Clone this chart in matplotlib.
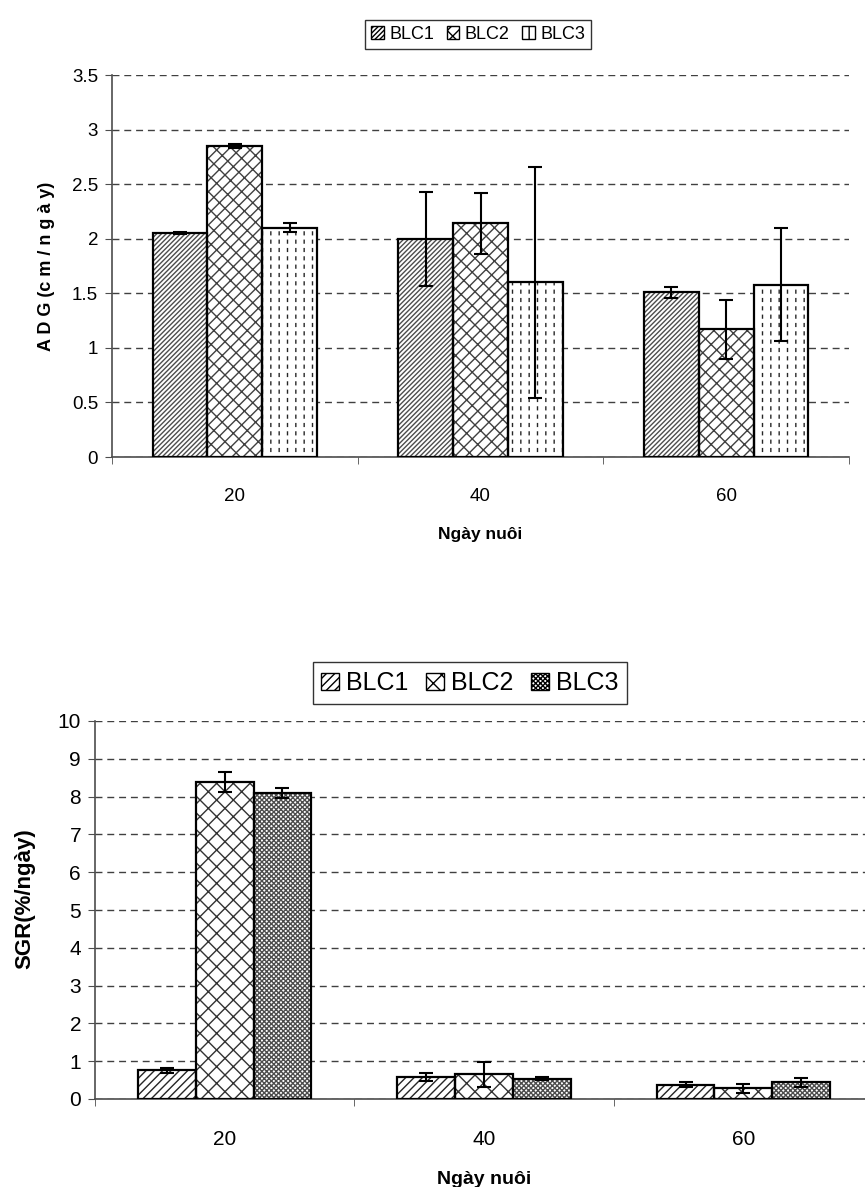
# two grouped bar charts: ADG and SGR by feeding day
import numpy as np
import matplotlib.pyplot as plt
from matplotlib.patches import Patch

plt.rcParams['font.family'] = ['Liberation Sans', 'DejaVu Sans']
plt.rcParams['hatch.linewidth'] = 1.0

# data
days = ['20', '40', '60']
series = ['BLC1', 'BLC2', 'BLC3']

adg_blc1 = [2.05, 2.00, 1.51]
adg_blc2 = [2.85, 2.14, 1.17]
adg_blc3 = [2.10, 1.60, 1.58]
adg_err1 = [0.01, 0.43, 0.05]
adg_err2 = [0.015, 0.28, 0.27]
adg_err3 = [0.04, 1.06, 0.52]

sgr_blc1 = [0.76, 0.59, 0.38]
sgr_blc2 = [8.38, 0.65, 0.28]
sgr_blc3 = [8.10, 0.54, 0.44]
sgr_err1 = [0.07, 0.11, 0.07]
sgr_err2 = [0.27, 0.33, 0.13]
sgr_err3 = [0.14, 0.03, 0.11]

adg_ticks = [0, 0.5, 1, 1.5, 2, 2.5, 3, 3.5]
sgr_ticks = list(range(0, 11))

fig = plt.figure(figsize=(8.65, 11.87), dpi=100)


def draw(ax, vals, errs, hatches, hcolors, ticks, ylabel, fs_tick, fs_lab, fs_x,
         dashed=None, label_y=0.5):
    x = np.arange(len(days))
    w = 0.223
    for i in range(3):
        pos = x + (i - 1) * w
        # hatch layer, then black outline on top
        ax.bar(pos, vals[i], w, color='white', hatch=hatches[i],
               edgecolor=hcolors[i], linewidth=0, zorder=2)
        if dashed is not None and dashed == i:
            # white horizontal lines break the vertical hatch into dashes
            with plt.rc_context({'hatch.linewidth': 3.0}):
                ax.bar(pos, vals[i], w, fill=False, hatch='--',
                       edgecolor='white', linewidth=0, zorder=2.5)
        ax.bar(pos, vals[i], w, fill=False, edgecolor='black',
               linewidth=1.6, zorder=3)
        ax.errorbar(pos, vals[i], yerr=errs[i], fmt='none', ecolor='black',
                    elinewidth=1.5, capsize=5, capthick=1.5, zorder=4)
    ax.set_xlim(-0.5, len(days) - 0.5)
    ax.set_ylim(ticks[0], ticks[-1])
    ax.set_yticks(ticks)
    ax.set_yticklabels([('%g' % t) for t in ticks], fontsize=fs_tick)
    ax.set_xticks(x)
    ax.set_xticklabels(days, fontsize=fs_tick)
    ax.set_xticks(np.arange(len(days) + 1) - 0.5, minor=True)
    ax.tick_params(axis='x', which='major', length=0, pad=22)
    ax.tick_params(axis='x', which='minor', length=5, color='0.3')
    ax.tick_params(axis='y', length=5, color='0.3', pad=5)
    ax.grid(True, axis='y', color='0.25', linestyle=(0, (5, 3.5)), linewidth=1)
    ax.set_axisbelow(True)
    for s in ['top', 'right']:
        ax.spines[s].set_visible(False)
    for s in ['left', 'bottom']:
        ax.spines[s].set_color('0.3')
        ax.spines[s].set_linewidth(1.2)
    ax.set_ylabel(ylabel, fontsize=fs_lab, fontweight='bold')
    ax.yaxis.set_label_coords(-0.077, label_y)
    ax.set_xlabel('Ngày nuôi', fontsize=fs_x, fontweight='bold', labelpad=16)


# top chart
ax1 = fig.add_axes([112 / 865, (1187 - 457) / 1187, 737 / 865, 382 / 1187])
h1 = ['///////', '/xx', '||']
c1 = ['0.3', '0.25', '0.15']
draw(ax1, [adg_blc1, adg_blc2, adg_blc3], [adg_err1, adg_err2, adg_err3],
     h1, c1, adg_ticks, 'A D G (c m / n g à y)', 13.5, 13, 12.5, dashed=2)

# bottom chart
ax2 = fig.add_axes([95 / 865, 88 / 1187, 778 / 865, 378 / 1187])
h2 = ['////', 'xx', 'xxxxxxx']
c2 = ['0.15', '0.2', '0.3']
draw(ax2, [sgr_blc1, sgr_blc2, sgr_blc3], [sgr_err1, sgr_err2, sgr_err3],
     h2, c2, sgr_ticks, 'SGR(%/ngày)', 15, 16, 14, label_y=0.53)

# legends
for hs, fs, cx, cy in [(h1, 13, 478 / 865, 1 - 34.5 / 1187),
                       (h2, 18, 470 / 865, 1 - 683 / 1187)]:
    handles = [Patch(facecolor='white', edgecolor='black', hatch=h, linewidth=1)
               for h in hs]
    leg = fig.legend(handles, series, loc='center', bbox_to_anchor=(cx, cy),
                     ncol=3, fontsize=fs, frameon=True, fancybox=False,
                     handlelength=0.7, handleheight=0.7, handletextpad=0.3,
                     columnspacing=0.7, borderpad=0.35)
    leg.get_frame().set_edgecolor('black')
    leg.get_frame().set_linewidth(1)

plt.savefig('out.png', dpi=100)
